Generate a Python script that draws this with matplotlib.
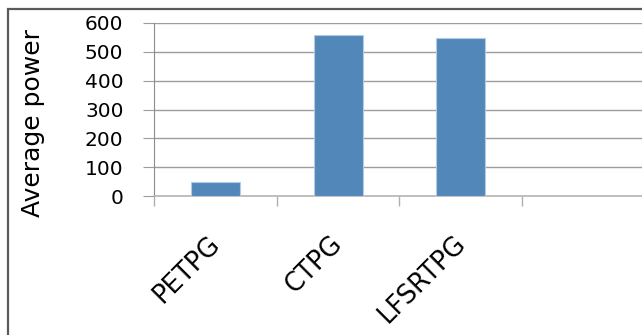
import matplotlib
matplotlib.use("Agg")
import matplotlib.pyplot as plt
from matplotlib.patches import Rectangle

categories = ["PETPG", "CTPG", "LFSRTPG", ""]
values = [48, 557, 548, 0]
yticks = [0, 100, 200, 300, 400, 500, 600]
ylabel = "Average power"

plt.rcParams['font.family'] = ['DejaVu Sans']

W, H = 642, 335
fig = plt.figure(figsize=(W / 100, H / 100), dpi=100)
fig.patch.set_facecolor('white')

# figure border (top and left visible)
fig.patches.append(Rectangle((8 / W, -0.1), 1.2, 1 - 9 / H + 0.1, transform=fig.transFigure,
                             fill=False, edgecolor='#5a5a5a', linewidth=1.6, zorder=10))

ax_left, ax_top, ax_bottom = 154, 23, 196
ax = fig.add_axes([ax_left / W, 1 - ax_bottom / H, (W - ax_left) / W, (ax_bottom - ax_top) / H])
slot = 122.7
ax.set_xlim(-0.5, -0.5 + (W - ax_left) / slot)
ax.set_ylim(0, 600)

xs = list(range(len(categories)))
ax.bar(xs[:3], values[:3], width=0.4, color='#5288B9', edgecolor='#B4CAE3', linewidth=0.8, zorder=3)

ax.set_yticks(yticks)
ax.set_yticklabels([str(v) for v in yticks], fontsize=14.5)
ax.yaxis.grid(True, color='#9c9c9c', linewidth=1.0, zorder=0)
ax.set_axisbelow(True)
ax.tick_params(axis='y', length=8, width=0.8, color='#9c9c9c', pad=14)

ax.set_xticks([-0.5, 0.5, 1.5, 2.5])
ax.set_xticklabels([])
ax.tick_params(axis='x', length=7.5, width=1.0, color='#b0b0b0')
for i, c in enumerate(categories):
    if c:
        ax.annotate(c, xy=(i, 0), xycoords=('data', 'axes fraction'),
                    xytext=(-6, -25), textcoords='offset points',
                    rotation=45, ha='right', va='top', fontsize=18.5, rotation_mode='anchor')

for s in ['top', 'right']:
    ax.spines[s].set_visible(False)
ax.spines['left'].set_color('#8c8c8c')
ax.spines['bottom'].set_color('#b5b5b5')
ax.spines['bottom'].set_linewidth(1.2)

fig.text(33 / W, 1 - 123 / H, ylabel, rotation=90, ha='center', va='center', fontsize=18)

fig.savefig("out.png", dpi=100)
